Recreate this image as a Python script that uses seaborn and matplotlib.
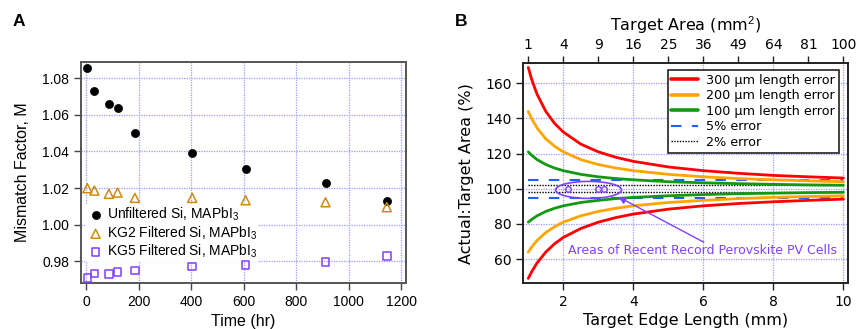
import numpy as np
import pandas as pd
import matplotlib
matplotlib.use("Agg")
import matplotlib.pyplot as plt
from matplotlib.patches import Ellipse
import seaborn as sns

# ---------------- data ----------------
# Panel A: mismatch factor vs. light-soaking time
time_hr = [5, 32, 87, 120, 186, 404, 607, 911, 1144]
unfiltered_si = [1.0859, 1.0733, 1.0660, 1.0640, 1.0502, 1.0389, 1.0303, 1.0227, 1.0128]
kg2_si = [1.0199, 1.0186, 1.0168, 1.0175, 1.0146, 1.0146, 1.0133, 1.0122, 1.0095]
kg5_si = [0.9706, 0.9731, 0.9728, 0.9741, 0.9748, 0.9770, 0.9777, 0.9794, 0.9827]

# Panel B: actual/target area for edge length errors
edge_mm = [1, 1.1, 1.25, 1.5, 1.75, 2, 2.5, 3, 3.5, 4, 5, 6, 7, 8, 9, 10]
err300_hi = [169.0, 162.0, 153.8, 144.0, 137.2, 132.3, 125.4, 121.0, 117.9, 115.6, 112.4, 110.3, 108.8, 107.6, 106.8, 106.1]
err300_lo = [49.0, 52.9, 57.8, 64.0, 68.7, 72.3, 77.4, 81.0, 83.6, 85.6, 88.4, 90.3, 91.6, 92.6, 93.4, 94.1]
err200_hi = [144.0, 139.7, 134.6, 128.4, 124.2, 121.0, 116.6, 113.8, 111.8, 110.3, 108.2, 106.8, 105.8, 105.1, 104.5, 104.0]
err200_lo = [64.0, 66.9, 70.6, 75.1, 78.4, 81.0, 84.6, 87.1, 88.9, 90.3, 92.2, 93.4, 94.4, 95.1, 95.6, 96.0]
err100_hi = [121.0, 119.0, 116.6, 113.8, 111.8, 110.3, 108.2, 106.8, 105.8, 105.1, 104.0, 103.4, 102.9, 102.5, 102.2, 102.0]
err100_lo = [81.0, 82.6, 84.6, 87.1, 88.9, 90.3, 92.2, 93.4, 94.4, 95.1, 96.0, 96.7, 97.2, 97.5, 97.8, 98.0]
band_edges = [1, 10]
band5 = [105, 95]
band2 = [102, 98]
record_edges = [2.12, 3.0, 3.16]
record_ratio = [100, 100, 100]
area_ticks = [1, 4, 9, 16, 25, 36, 49, 64, 81, 100]

# ---------------- style ----------------
sns.set_style("ticks")
plt.rcParams["font.family"] = ["Liberation Sans", "DejaVu Sans"]
plt.rcParams["mathtext.fontset"] = "custom"
plt.rcParams["mathtext.rm"] = "Liberation Sans"
plt.rcParams["mathtext.it"] = "Liberation Sans:italic"
plt.rcParams["text.color"] = "black"
plt.rcParams["axes.labelcolor"] = "black"
plt.rcParams["xtick.labelcolor"] = "black"
plt.rcParams["ytick.labelcolor"] = "black"

GRID = dict(color="#9a9aff", linestyle=(0, (1, 1)), linewidth=0.9)
PURPLE = "#8040ff"
ORANGE_MK = "#d08a10"

fig = plt.figure(figsize=(8.59, 3.29), dpi=100)
axA = fig.add_axes([0.0943, 0.1398, 0.3783, 0.6718])
axB = fig.add_axes([0.6092, 0.1389, 0.3784, 0.6687])

# ---------------- panel A ----------------
sns.scatterplot(x=time_hr, y=unfiltered_si, ax=axA, color="black", marker="o",
                s=34, edgecolor="black", linewidth=0.5,
                label="Unfiltered Si, MAPbI$_3$", zorder=3)
sns.scatterplot(x=time_hr, y=kg2_si, ax=axA, color=ORANGE_MK, marker="^",
                s=42, facecolor="none", edgecolor=ORANGE_MK, linewidth=1.1,
                label="KG2 Filtered Si, MAPbI$_3$", zorder=3)
sns.scatterplot(x=time_hr, y=kg5_si, ax=axA, color=PURPLE, marker="s",
                s=30, facecolor="none", edgecolor=PURPLE, linewidth=1.1,
                label="KG5 Filtered Si, MAPbI$_3$", zorder=3)

axA.set_xlim(-19, 1217)
axA.set_ylim(0.968, 1.089)
axA.set_xticks([0, 200, 400, 600, 800, 1000, 1200])
axA.set_yticks([0.98, 1.00, 1.02, 1.04, 1.06, 1.08])
axA.yaxis.set_major_formatter(matplotlib.ticker.FormatStrFormatter("%.2f"))
axA.grid(True, **GRID)
axA.set_axisbelow(True)
axA.tick_params(direction="out", length=5, width=1, labelsize=10, color="#444444")
axA.set_xlabel("Time (hr)", fontsize=11.5, labelpad=4)
axA.set_ylabel("Mismatch Factor, M", fontsize=11.5, labelpad=9)
for sp in axA.spines.values():
    sp.set_color("#555555")
    sp.set_linewidth(1.4)
legA = axA.legend(loc="lower left", bbox_to_anchor=(0.0, 0.075), frameon=True,
                  fontsize=10, handletextpad=0.2, labelspacing=0.07,
                  borderpad=0.15, handlelength=1.2, borderaxespad=0.3)
legA.get_frame().set_edgecolor("none")
legA.get_frame().set_facecolor("white")
legA.get_frame().set_alpha(1)
legA.get_frame().set_boxstyle("square", pad=0)
legA.set_zorder(2.5)

fig.text(0.015, 0.934, "A", fontsize=12.5, fontweight="bold", va="center", color="black")

# ---------------- panel B ----------------
BFONT = "DejaVu Sans"
curves = [
    (err300_hi, err300_lo, "#ff0000", "300 μm length error"),
    (err200_hi, err200_lo, "#ffa500", "200 μm length error"),
    (err100_hi, err100_lo, "#119911", "100 μm length error"),
]
for hi, lo, col, lab in curves:
    sns.lineplot(x=edge_mm, y=hi, ax=axB, color=col, linewidth=2.0, label=lab, sort=False, zorder=3)
    sns.lineplot(x=edge_mm, y=lo, ax=axB, color=col, linewidth=2.0, sort=False, zorder=3)
for i, v in enumerate(band5):
    sns.lineplot(x=band_edges, y=[v, v], ax=axB, color="#1f5fff", linewidth=1.5,
                 linestyle=(0, (5, 5)), label="5% error" if i == 0 else None, zorder=2)
for i, v in enumerate(band2):
    sns.lineplot(x=band_edges, y=[v, v], ax=axB, color="black", linewidth=1.0,
                 linestyle=(0, (1, 1)), label="2% error" if i == 0 else None, zorder=2)

axB.plot(record_edges, record_ratio, linestyle="none", marker="o", ms=4,
         mfc="none", mec=PURPLE, mew=1.0, zorder=4)
axB.add_patch(Ellipse((2.72, 99.35), 1.88, 9.7, fill=False, edgecolor=PURPLE,
                      linewidth=1.2, zorder=4))
axB.annotate("", xy=(3.57, 95.4), xytext=(6.01, 69.6),
             arrowprops=dict(arrowstyle="-|>", color=PURPLE, lw=1.0,
                             mutation_scale=11, shrinkA=0, shrinkB=0), zorder=4)
axB.text(2.12, 65.0, "Areas of Recent Record Perovskite PV Cells", color=PURPLE,
         fontsize=9.0, family=BFONT, ha="left", va="center")

axB.set_xlim(0.857, 10.14)
axB.set_ylim(46.2, 171.4)
axB.set_xticks([2, 4, 6, 8, 10])
axB.set_yticks([60, 80, 100, 120, 140, 160])
axB.grid(True, **GRID)
axB.set_axisbelow(True)
axB.tick_params(direction="out", length=5, width=1, labelsize=10, color="#222222")
for lbl in axB.get_xticklabels() + axB.get_yticklabels():
    lbl.set_family(BFONT)
axB.set_xlabel("Target Edge Length (mm)", fontsize=11.5, family=BFONT, labelpad=3)
axB.set_ylabel("Actual:Target Area (%)", fontsize=11.5, family=BFONT, labelpad=8)
for sp in axB.spines.values():
    sp.set_color("#222222")
    sp.set_linewidth(1.2)

top = axB.twiny()
top.set_xlim(axB.get_xlim())
top.set_xticks(np.sqrt(area_ticks))
top.set_xticklabels([str(a) for a in area_ticks], family=BFONT, fontsize=10)
top.tick_params(direction="out", length=5, width=1, color="#222222", pad=3)
top.set_xlabel("Target Area (mm$^2$)", fontsize=11.5, family=BFONT, labelpad=5)
for sp in top.spines.values():
    sp.set_color("#222222")
    sp.set_linewidth(1.2)

legB = axB.legend(loc="upper right", bbox_to_anchor=(0.97, 0.97), frameon=True,
                  fancybox=False, handlelength=2.1, handletextpad=0.6,
                  labelspacing=0.2, borderpad=0.3, borderaxespad=0,
                  prop={"family": BFONT, "size": 9.2})
legB.get_frame().set_edgecolor("#222222")
legB.get_frame().set_linewidth(1.2)
legB.get_frame().set_alpha(1)
for ln in legB.get_lines()[:3]:
    ln.set_linewidth(2.6)

fig.text(0.530, 0.934, "B", fontsize=12.5, fontweight="bold", va="center", color="black")

fig.savefig("out.png", dpi=100)
